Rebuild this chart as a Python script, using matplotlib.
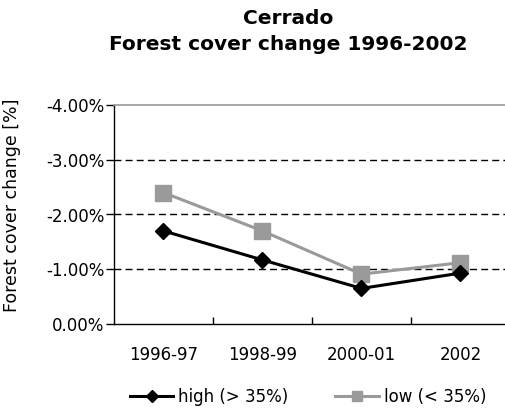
import matplotlib.pyplot as plt
from matplotlib.ticker import FixedLocator

periods = ["1996-97", "1998-99", "2000-01", "2002"]
high_change = [-1.70, -1.17, -0.65, -0.93]
low_change = [-2.40, -1.70, -0.91, -1.12]
y_ticks = [0, -1, -2, -3, -4]
y_tick_labels = ["0.00%", "-1.00%", "-2.00%", "-3.00%", "-4.00%"]

W, H = 506, 411
fig = plt.figure(figsize=(W / 100, H / 100), dpi=100)
fig.patch.set_facecolor("white")
ax = fig.add_axes([114 / W, 1 - 324 / H, (510 - 114) / W, (324 - 105) / H])

x = list(range(len(periods)))
ax.plot(x, high_change, color="black", lw=2.2, marker="D", ms=8.5,
        mec="black", mfc="black", label="high (> 35%)", zorder=4)
ax.plot(x, low_change, color="#9a9a9a", lw=2.2, marker="s", ms=11,
        mec="#9a9a9a", mfc="#9a9a9a", label="low (< 35%)", zorder=3)

for v in [-1, -2, -3]:
    ax.axhline(v, color="black", lw=1.0, ls=(0, (5, 3)), zorder=1)

ax.set_xlim(-0.5, len(periods) - 0.5)
ax.set_ylim(0, -4)

ax.spines["top"].set_color("#9a9a9a")
ax.spines["top"].set_linewidth(1.2)
ax.spines["right"].set_visible(False)
ax.spines["left"].set_linewidth(1.0)
ax.spines["bottom"].set_linewidth(1.0)

ax.set_yticks(y_ticks)
ax.set_yticklabels(y_tick_labels, fontsize=12)
ax.tick_params(axis="y", direction="out", length=6, width=1, pad=1)

ax.set_xticks(x)
ax.set_xticklabels(periods, fontsize=12)
ax.xaxis.set_minor_locator(FixedLocator([i + 0.5 for i in range(len(periods) - 1)]))
ax.tick_params(axis="x", which="major", length=0, pad=16)
ax.tick_params(axis="x", which="minor", direction="in", length=5, width=1)

ax.set_ylabel("Forest cover change [%]", fontsize=12.5)
ax.yaxis.set_label_coords(-0.235, 0.54)

fig.text(288 / W, 1 - 19 / H, "Cerrado", ha="center", va="center",
         fontsize=14.5, fontweight="bold")
fig.text(288 / W, 1 - 44 / H, "Forest cover change 1996-2002", ha="center",
         va="center", fontsize=14.5, fontweight="bold")

fig.legend(loc="center", bbox_to_anchor=(308 / W, 1 - 397 / H), ncol=2,
           frameon=False, fontsize=12, handlelength=2.6, columnspacing=2.8,
           handletextpad=0.3, markerscale=0.7)

fig.savefig("out.png", dpi=100)
